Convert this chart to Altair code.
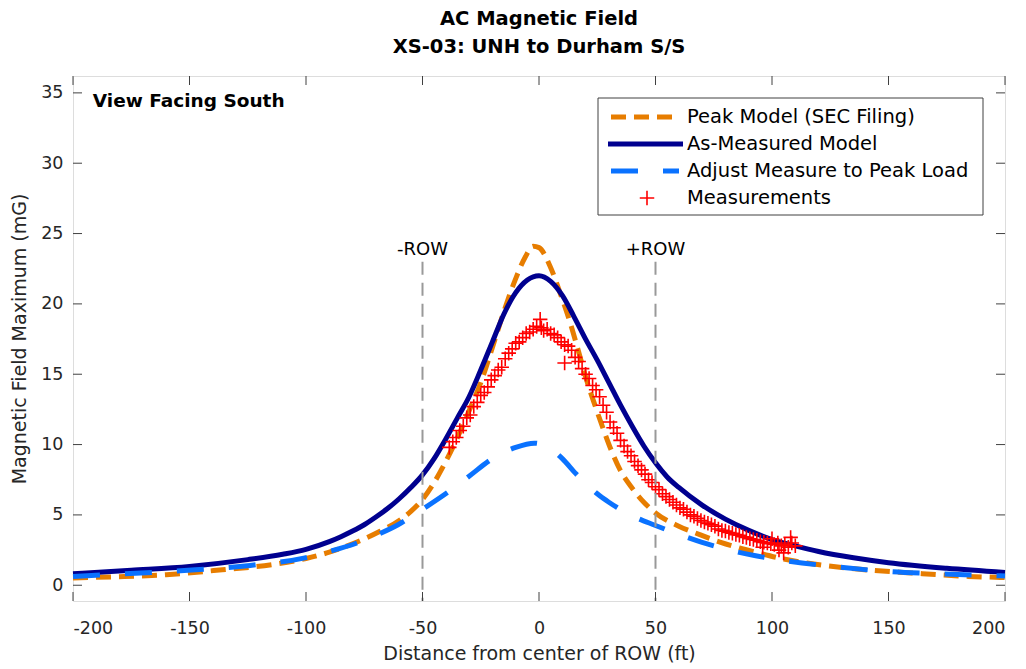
import altair as alt
import pandas as pd

FONT = "DejaVu Sans"
AXIS_COLOR = "#404040"
LABEL_COLOR = "#262626"

# ---------------- data ----------------
series_names = ["Peak Model (SEC Filing)", "As-Measured Model",
                "Adjust Measure to Peak Load", "Measurements"]
series_colors = ["#E77D00", "#00008F", "#0A72FF", "#FF0000"]

peak_x = [-200, -182, -160, -136, -113, -100, -90, -80, -68, -60, -55, -50, -45, -40,
          -35, -30, -25, -20, -15, -10, -6, -2.5, 0, 4.7, 9, 13.3, 17, 20.4, 24, 27.6,
          31, 34.8, 40, 45, 50, 60, 69, 78, 86, 93.4, 104, 115, 136.6, 160, 184, 200]
peak_y = [0.52, 0.6, 0.75, 1.1, 1.5, 1.9, 2.35, 2.95, 3.85, 4.6, 5.25, 6.1, 7.3, 8.8,
          10.5, 12.4, 14.4, 16.9, 19.5, 21.8, 23.3, 24.1, 24.0, 22.7, 20.8, 18.7, 16.6,
          14.6, 12.8, 11.1, 9.6, 8.2, 6.9, 5.9, 5.14, 4.2, 3.6, 3.05, 2.65, 2.33, 1.9,
          1.58, 1.15, 0.87, 0.63, 0.55]

model_x = [-200, -175, -150, -125, -110, -100, -90, -85, -80, -75, -70, -65, -60, -55,
           -50, -45, -40, -35, -30, -25, -20, -15, -10, -5, 0, 5, 10, 15, 20, 25, 30,
           35, 40, 45, 50, 55, 60, 70, 80, 90, 100, 110, 120, 135, 150, 175, 200]
model_y = [0.82, 1.07, 1.34, 1.82, 2.2, 2.55, 3.1, 3.45, 3.85, 4.3, 4.85, 5.45, 6.15,
           6.95, 7.85, 9.0, 10.4, 11.9, 13.4, 15.3, 17.3, 19.3, 20.8, 21.7, 22.0, 21.6,
           20.6, 19.1, 17.5, 16.0, 14.4, 12.8, 11.3, 9.9, 8.7, 7.7, 6.95, 5.7, 4.7, 3.9,
           3.25, 2.8, 2.4, 1.95, 1.6, 1.2, 0.91]

adj_x = [-200, -194, -171, -147.5, -124, -101, -90, -79, -70, -60.5, -50, -38, -30,
         -20, -10, -2, 5, 10, 16, 20, 25, 30, 38, 50, 60, 70, 81, 93, 105, 128, 150,
         174, 196, 200]
adj_y = [0.62, 0.68, 0.87, 1.1, 1.41, 1.93, 2.4, 2.95, 3.55, 4.3, 5.4, 6.75, 7.75,
         9.0, 9.8, 10.1, 9.7, 9.0, 7.9, 7.25, 6.5, 5.9, 5.1, 4.25, 3.62, 3.05, 2.53, 2.1,
         1.77, 1.3, 0.98, 0.8, 0.68, 0.66]

meas_x = [-38.5, -37.0, -35.5, -34.0, -32.5, -31.0, -29.5, -28.0, -26.5, -25.0,
          -23.5, -22.0, -20.5, -19.0, -17.5, -16.0, -14.5, -13.0, -11.5, -10.0,
          -8.5, -7.0, -5.5, -4.0, -2.5, -1.0, 0.5, 1.0, 2.0, 3.5, 5.0, 6.5, 8.0,
          9.5, 11.0, 11.0, 12.5, 14.0, 15.5, 17.0, 18.5, 20.0, 21.5, 23.0, 24.5,
          26.0, 27.5, 29.0, 30.5, 32.0, 33.5, 35.0, 36.5, 38.0, 39.5, 41.0, 42.5,
          44.0, 45.5, 47.0, 48.5, 50.0, 51.5, 53.0, 54.5, 56.0, 57.5, 59.0, 60.5,
          62.0, 63.5, 65.0, 66.5, 68.0, 69.5, 71.0, 72.5, 74.0, 75.5, 77.0, 78.5,
          80.0, 81.5, 83.0, 84.5, 86.0, 87.5, 89.0, 90.5, 92.0, 93.5, 95.0, 96.5,
          98.0, 99.5, 101.0, 102.5, 104.0, 105.5, 107.0, 108.5, 110.0,
          96.0, 100.0, 103.0, 105.0, 108.0]
meas_y = [9.8, 10.2, 10.5, 11.0, 11.3, 11.9, 12.1, 12.7, 13.0, 13.5,
          13.7, 14.1, 14.6, 14.9, 15.3, 15.5, 16.1, 16.5, 16.8, 17.2,
          17.3, 17.6, 17.9, 18.0, 18.2, 18.4, 18.9, 18.3, 18.1, 18.2, 17.9, 17.8, 17.6,
          17.3, 15.8, 17.1, 17.0, 16.7, 16.2, 15.9, 15.4, 15.0, 14.7, 14.2, 13.9,
          13.4, 12.8, 12.3, 11.6, 11.2, 10.8, 10.3, 9.9, 9.5, 9.2, 8.8, 8.5,
          8.2, 7.9, 7.5, 7.3, 7.0, 6.8, 6.5, 6.3, 6.1, 5.9, 5.7, 5.5,
          5.4, 5.2, 5.0, 4.9, 4.75, 4.6, 4.5, 4.4, 4.3, 4.2, 4.0, 3.9,
          3.85, 3.75, 3.7, 3.6, 3.55, 3.45, 3.4, 3.3, 3.25, 3.2, 3.1, 3.05,
          3.0, 2.95, 2.9, 3.0, 2.8, 2.9, 2.7, 3.0, 2.8,
          2.7, 3.3, 2.5, 2.3, 3.4]

row_x = [-50, 50]
row_labels = ["-ROW", "+ROW"]
x_ticks = [-200, -150, -100, -50, 0, 50, 100, 150, 200]
y_ticks = [0, 5, 10, 15, 20, 25, 30, 35]

W, H = 932, 525
YMIN, YMAX = -1.12, 36.2
xscale = alt.Scale(domain=[-200, 200], nice=False, zero=False)
yscale = alt.Scale(domain=[YMIN, YMAX], nice=False, zero=False)

x_axis = alt.Axis(values=x_ticks, ticks=False, domain=False, grid=False,
                  labelExpr="'' + datum.value",
                  labelFont=FONT, labelFontSize=17.5, labelColor=LABEL_COLOR,
                  labelPadding=18, title="Distance from center of ROW (ft)",
                  titleFont=FONT, titleFontSize=19, titleFontWeight="normal",
                  titleColor=LABEL_COLOR, titlePadding=8)
y_axis = alt.Axis(values=y_ticks, ticks=False, domain=False, grid=False,
                  labelExpr="'' + datum.value",
                  labelFont=FONT, labelFontSize=17.5, labelColor=LABEL_COLOR,
                  labelPadding=10, title="Magnetic Field Maximum (mG)",
                  titleFont=FONT, titleFontSize=19, titleFontWeight="normal",
                  titleColor=LABEL_COLOR, titlePadding=11)


def xe():
    return alt.X("x:Q", scale=xscale, axis=x_axis)


def ye():
    return alt.Y("y:Q", scale=yscale, axis=y_axis)


DASHES = [[15, 8], None, [27, 25]]
CROSS = "M-1,0L1,0M0,-1L0,1"

peak = alt.Chart(pd.DataFrame({"x": peak_x, "y": peak_y})).mark_line(
    color=series_colors[0], strokeWidth=5, strokeDash=DASHES[0],
    interpolate="monotone", strokeCap="butt").encode(x=xe(), y=ye())
model = alt.Chart(pd.DataFrame({"x": model_x, "y": model_y})).mark_line(
    color=series_colors[1], strokeWidth=5, interpolate="monotone").encode(x=xe(), y=ye())
adj = alt.Chart(pd.DataFrame({"x": adj_x, "y": adj_y})).mark_line(
    color=series_colors[2], strokeWidth=5, strokeDash=DASHES[2],
    interpolate="monotone", strokeCap="butt").encode(x=xe(), y=ye())
meas = alt.Chart(pd.DataFrame({"x": meas_x, "y": meas_y})).mark_point(
    shape=CROSS, size=210, filled=False, color=series_colors[3], strokeWidth=1.6,
    opacity=1).encode(x=xe(), y=ye())

row_df = pd.DataFrame({"x": row_x, "label": row_labels}).assign(y=23.0, y2=YMIN, ty=23.86)
row_rules = alt.Chart(row_df).mark_rule(
    color="#999999", strokeWidth=2, strokeDash=[13, 8]).encode(
    x=xe(), y=ye(), y2="y2:Q")
row_text = alt.Chart(row_df).mark_text(
    font=FONT, fontSize=18, color="black", align="center", baseline="middle").encode(
    x=xe(), y=alt.Y("ty:Q", scale=yscale, axis=y_axis), text="label:N")

view_df = pd.DataFrame({"t": ["View Facing South"]}).assign(x=-191.5, y=34.4)
view_text = alt.Chart(view_df).mark_text(
    font=FONT, fontSize=18.5, fontWeight="bold", color="black", align="left",
    baseline="middle").encode(x=xe(), y=ye(), text="t:N")

# inward ticks (box axes)
xt = pd.DataFrame({"x": x_ticks})
yt = pd.DataFrame({"y": y_ticks})
tick_layers = [
    alt.Chart(xt).mark_rule(color=AXIS_COLOR, strokeWidth=1).encode(
        x=xe(), y=alt.value(H), y2=alt.value(H - 9)),
    alt.Chart(xt).mark_rule(color=AXIS_COLOR, strokeWidth=1).encode(
        x=xe(), y=alt.value(0), y2=alt.value(9)),
    alt.Chart(yt).mark_rule(color=AXIS_COLOR, strokeWidth=1).encode(
        y=ye(), x=alt.value(0), x2=alt.value(9)),
    alt.Chart(yt).mark_rule(color=AXIS_COLOR, strokeWidth=1).encode(
        y=ye(), x=alt.value(W), x2=alt.value(W - 9)),
]

# legend (drawn in pixel space of the plot area)
one = pd.DataFrame({"a": [0]})
leg_rows = [41, 68, 95, 122]
legend_layers = [
    alt.Chart(one).mark_rect(fill="white", stroke=AXIS_COLOR, strokeWidth=1).encode(
        x=alt.value(525), x2=alt.value(910), y=alt.value(22), y2=alt.value(139)),
]
for i in range(3):
    kw = dict(color=series_colors[i], strokeWidth=5, strokeCap="butt")
    if DASHES[i] is not None:
        kw["strokeDash"] = DASHES[i]
    x0, x1 = (535, 610) if DASHES[i] is None else (538, 606)
    legend_layers.append(alt.Chart(one).mark_rule(**kw).encode(
        x=alt.value(x0), x2=alt.value(x1), y=alt.value(leg_rows[i])))
legend_layers.append(alt.Chart(one).mark_point(
    shape=CROSS, size=210, filled=False, color=series_colors[3], strokeWidth=1.6,
    opacity=1).encode(x=alt.value(574), y=alt.value(leg_rows[3])))
for i, name in enumerate(series_names):
    legend_layers.append(alt.Chart(one).mark_text(
        text=name, font=FONT, fontSize=19.5, color="black", align="left",
        baseline="middle").encode(x=alt.value(614), y=alt.value(leg_rows[i])))

chart = alt.layer(
    peak, model, adj, meas, row_rules, row_text, view_text,
    *tick_layers, *legend_layers
).properties(
    width=W, height=H,
    title=alt.TitleParams(text=["AC Magnetic Field", "XS-03: UNH to Durham S/S"],
                          font=FONT, fontSize=19.5, fontWeight="bold", color="black",
                          anchor="middle", offset=18, lineHeight=28),
    autosize=alt.AutoSizeParams(type="none"),
    padding={"left": 65, "top": 68, "right": 5, "bottom": 66},
).configure_view(stroke=AXIS_COLOR, strokeWidth=1).configure(background="white")

chart.save("out.html", embed_options={"renderer": "svg", "actions": False})
